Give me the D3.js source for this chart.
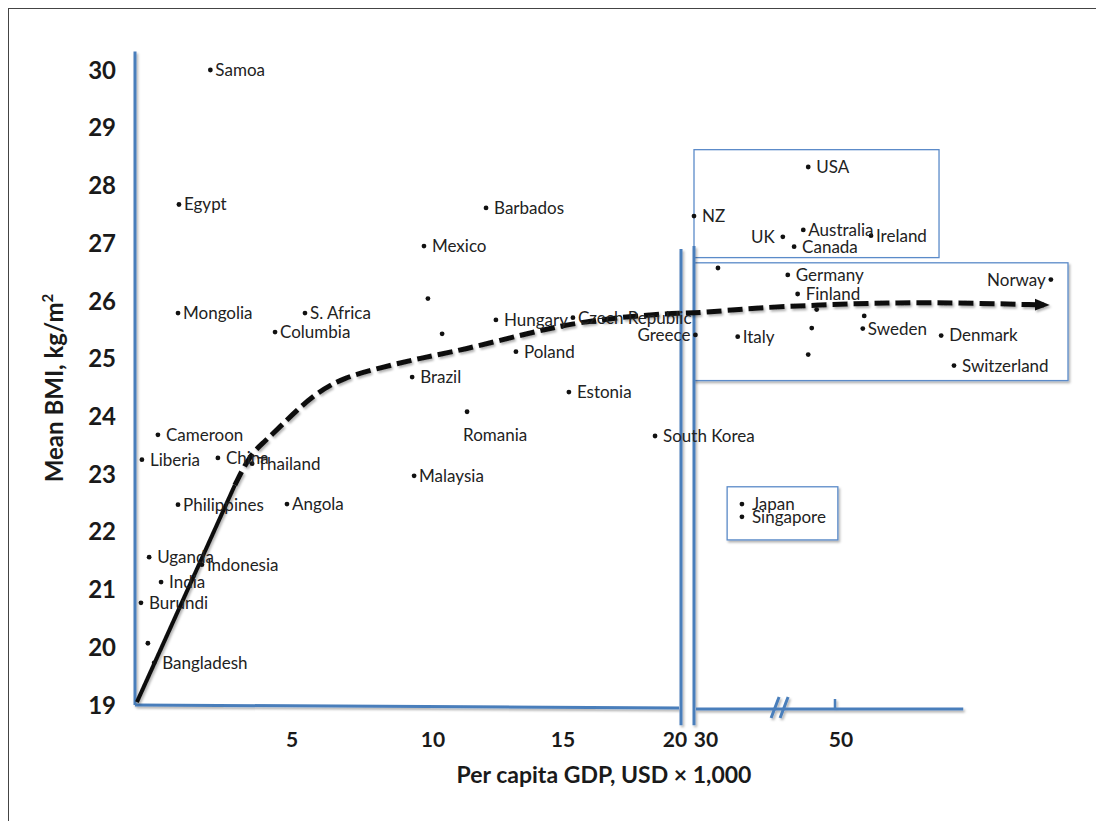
<!DOCTYPE html>
<html><head><meta charset="utf-8">
<script src="https://cdn.jsdelivr.net/npm/d3@7"></script>
<style>body{margin:0;background:#fff}svg{display:block}</style>
</head><body>
<svg id="chart" width="1096" height="821"></svg>
<script>
// ---- DATA ----
const countries = ["Samoa","Egypt","Mongolia","S. Africa","Columbia","","","Hungary","Brazil","Romania",
  "Cameroon","Liberia","China","Thailand","Malaysia","Philippines","Angola","Uganda","Indonesia","India",
  "Burundi","","Bangladesh","Barbados","Mexico","Czech Republic","Poland","Estonia","South Korea","Greece",
  "NZ","USA","UK","Australia","Ireland","Canada","","Germany","Finland","Norway",
  "","","Sweden","","Italy","Denmark","","Switzerland","Japan","Singapore"];
const gdpValues = [2.4,1.4,1.37,5.46,4.46,9.82,10.35,12.42,9.26,11.31,
  0.73,0.22,2.64,3.73,9.33,1.37,4.84,0.45,2.13,0.83,
  0.19,0.41,0.61,12.04,9.68,15.42,13.19,15.25,18.9,30.2,
  30.0,46.2,42.6,45.5,55.05,44.2,33.4,43.3,44.7,80.3,
  47.4,54.1,53.9,46.7,36.2,64.9,46.2,66.7,36.8,36.8];
const bmiValues = [30.0,27.67,25.79,25.79,25.46,26.04,25.43,25.67,24.68,24.08,
  23.68,23.25,23.28,23.18,22.97,22.47,22.48,21.56,21.43,21.13,
  20.77,20.07,19.73,27.61,26.95,25.71,25.12,24.42,23.66,25.41,
  27.47,28.32,27.11,27.23,27.13,26.94,26.57,26.45,26.12,26.37,
  25.85,25.74,25.52,25.53,25.38,25.40,25.07,24.88,22.48,22.26];

const yTicks = [19,20,21,22,23,24,25,26,27,28,29,30];
const xTicks = [5,10,15,20,30,50];

// trend line (solid part, then dashed part)
const trendSolidGdp = [0.06,3.18];
const trendSolidBmi = [19.05,22.81];
const trendDashGdp = [3.18,3.66,4.08,4.62,5.18,5.89,6.81,8.12,9.54,11.15,13.73,15.72,18.56,20,30.85,38.4,47.9,57.3,66.6,79.3];
const trendDashBmi = [22.81,23.33,23.54,23.82,24.11,24.41,24.67,24.84,25.01,25.15,25.45,25.64,25.76,25.79,25.79,25.88,25.93,25.97,25.97,25.93];

// group boxes [gdpLeft, gdpRight, bmiTop, bmiBottom]
const boxGdpLeft = [30, 30, 34.7];
const boxGdpRight = [64.6, 82.7, 50.4];
const boxBmiTop = [28.62, 26.66, 22.78];
const boxBmiBottom = [26.75, 24.62, 21.86];

// ---- CHART ----
const svg = d3.select("#chart");
const blue = "#4a7ebb";
const font = "Lato, 'Open Sans', sans-serif";

const x = d3.scaleLinear().domain([0,5,10,15,20,30,50,90]).range([135,292,433,563,681,694,835,1120]);
const y = d3.scaleLinear().domain([19,30]).range([705,70]);

const defs = svg.append("defs");
const f = defs.append("filter").attr("id","sh").attr("filterUnits","userSpaceOnUse")
  .attr("x",0).attr("y",0).attr("width",1096).attr("height",821);
f.append("feDropShadow").attr("dx",1.5).attr("dy",2).attr("stdDeviation",1.3)
  .attr("flood-color","#000").attr("flood-opacity",0.3);
defs.append("marker").attr("id","arr").attr("viewBox","0 -5 10 10").attr("refX",6).attr("refY",0)
  .attr("markerWidth",3).attr("markerHeight",3).attr("orient","auto").attr("markerUnits","strokeWidth")
  .append("path").attr("d","M0,-4L10,0L0,4Z").attr("fill","#111");

// outer frame
svg.append("rect").attr("x",8.5).attr("y",8.5).attr("width",1200).attr("height",900)
  .attr("fill","none").attr("stroke","#444").attr("stroke-width",1);

// boxes
const boxG = svg.append("g");
boxGdpLeft.forEach((gl,i)=>{
  boxG.append("rect").attr("x",x(gl)).attr("y",y(boxBmiTop[i]))
    .attr("width",x(boxGdpRight[i])-x(gl)).attr("height",y(boxBmiBottom[i])-y(boxBmiTop[i]))
    .attr("fill","#fff").attr("stroke","#5b8bc9").attr("stroke-width",1.3)
    .attr("filter", i===0 ? null : "url(#sh)");
});

// axes
const axG = svg.append("g").attr("stroke",blue).attr("stroke-width",3).attr("fill","none").attr("filter","url(#sh)");
axG.append("line").attr("x1",x(0)).attr("x2",x(0)).attr("y1",y(30.32)).attr("y2",y(19));
axG.append("line").attr("x1",x(0)).attr("x2",x(20)-2).attr("y1",y(19)).attr("y2",y(19)+3);
axG.append("line").attr("x1",x(30)+2).attr("x2",x(68)).attr("y1",y(19)+4).attr("y2",y(19)+4);
axG.append("line").attr("x1",x(20)).attr("x2",x(20)).attr("y1",y(26.9)).attr("y2",y(18.65));
axG.append("line").attr("x1",x(30)).attr("x2",x(30)).attr("y1",y(26.95)).attr("y2",y(18.65));
// break marks
const bx = x(41.5);
axG.append("line").attr("x1",bx-4).attr("x2",bx+4).attr("y1",y(19)+13).attr("y2",y(19)-8);
axG.append("line").attr("x1",bx+5).attr("x2",bx+13).attr("y1",y(19)+13).attr("y2",y(19)-8);
axG.append("line").attr("x1",x(50)).attr("x2",x(50)).attr("y1",y(19)-6).attr("y2",y(19)+3).attr("stroke-width",2.5);

// tick labels
svg.append("g").selectAll("text").data(yTicks).join("text")
  .attr("x",116).attr("y",d=>y(d)).attr("dy","0.36em").attr("text-anchor","end")
  .attr("font-family",font).attr("font-weight",700).attr("font-size",24).attr("fill","#1a1a1a")
  .text(d=>d);
const xLabelShift = {20:-6, 30:12, 50:6};
svg.append("g").selectAll("text").data(xTicks).join("text")
  .attr("x",d=>x(d)+(xLabelShift[d]||0)).attr("y",747).attr("text-anchor","middle")
  .attr("font-family",font).attr("font-weight",700).attr("font-size",21).attr("fill","#1a1a1a")
  .text(d=>d);

// axis titles
svg.append("text").attr("x",604).attr("y",783).attr("text-anchor","middle")
  .attr("font-family",font).attr("font-weight",700).attr("font-size",23).attr("fill","#1a1a1a")
  .text("Per capita GDP, USD \u00d7 1,000");
const yt = svg.append("text").attr("transform","translate(63,388) rotate(-90)").attr("text-anchor","middle")
  .attr("font-family",font).attr("font-weight",700).attr("font-size",24).attr("fill","#1a1a1a");
yt.append("tspan").text("Mean BMI, kg/m");
yt.append("tspan").attr("font-size",15).attr("dy",-10).text("2");

// trend lines
const line = d3.line().x(d=>x(d[0])).y(d=>y(d[1]));
svg.append("path").datum(trendSolidGdp.map((g,i)=>[g,trendSolidBmi[i]]))
  .attr("d",line).attr("fill","none").attr("stroke","#111").attr("stroke-width",4).attr("filter","url(#sh)");
svg.append("path").datum(trendDashGdp.map((g,i)=>[g,trendDashBmi[i]]))
  .attr("d",line.curve(d3.curveBasis)).attr("fill","none").attr("stroke","#111")
  .attr("stroke-width",5).attr("stroke-dasharray","15,6").attr("marker-end","url(#arr)").attr("filter","url(#sh)");

// points
const pts = countries.map((c,i)=>({name:c,g:gdpValues[i],b:bmiValues[i]}));
const tight = new Set(["Samoa","Egypt","Mongolia","S. Africa","Columbia","Malaysia","Philippines","Angola",
  "Indonesia","Thailand","Czech Republic","Australia","Ireland","Sweden","Italy","Greece","Norway"]);
const leftLbl = new Set(["Greece","UK","Norway"]);
const pg = svg.append("g");
pg.selectAll("circle").data(pts).join("circle")
  .attr("cx",d=>x(d.g)).attr("cy",d=>y(d.b)).attr("r",2.4).attr("fill","#111");
pg.selectAll("text").data(pts.filter(d=>d.name)).join("text")
  .attr("x",d=>{
    const gap = tight.has(d.name)?5:(d.name==="Japan"||d.name==="Singapore"?10:8);
    if (d.name==="Romania") return x(d.g)-4;
    return leftLbl.has(d.name) ? x(d.g)-gap : x(d.g)+gap;
  })
  .attr("y",d=>y(d.b) + (d.name==="Romania"?23:0))
  .attr("dy","0.35em")
  .attr("text-anchor",d=>leftLbl.has(d.name)?"end":"start")
  .attr("font-family",font).attr("font-size",17).attr("fill","#222")
  .text(d=>d.name);
</script>
</body></html>
